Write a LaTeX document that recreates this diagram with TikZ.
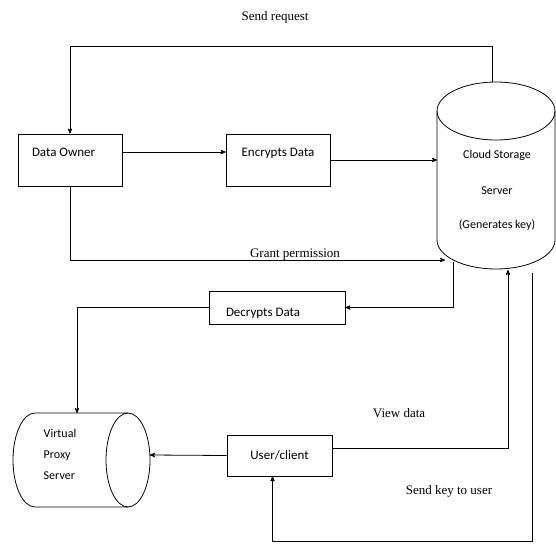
\documentclass[tikz,border=0pt]{standalone}
\usepackage{fontspec}
\setmainfont{Carlito}
\newfontfamily\labelserif{Liberation Serif}
\usetikzlibrary{arrows}

\begin{document}
\begin{tikzpicture}[>=stealth',x=1pt,y=-1pt,line width=0.8pt,
                    proc box/.style={rectangle,draw,inner sep=0pt,font=\fontsize{13}{15}\selectfont},
                    flow label/.style={font=\labelserif\fontsize{13}{15}\selectfont}]

  \useasboundingbox (0,0) rectangle (556,543);

  % boxes
  \node[proc box,text width=76pt,inner xsep=14pt,align=flush left,text height=22pt,text depth=30pt] (owner) at (70,160) {Data Owner};
  \node[proc box,minimum width=104pt,text height=22pt,text depth=30pt] (encrypt) at (278,160) {Encrypts Data};
  \node[proc box,text width=102pt,inner xsep=17pt,align=flush left,text height=25pt,text depth=8pt] (decrypt) at (277,307.5) {Decrypts Data};
  \node[proc box,minimum width=105pt,minimum height=41pt] (user) at (279.5,455.5) {User/client};

  % cloud storage cylinder
  \draw (437,111) -- (437,240) arc[start angle=180,end angle=360,x radius=59pt,y radius=29pt] -- (555,111);
  \draw (496,111) ellipse[x radius=59pt,y radius=29pt];
  \node[align=center,font=\fontsize{12}{14}\selectfont] (cloud) at (497,190)
       {Cloud Storage\\[22pt]Server\\[20pt](Generates key)};

  % virtual proxy cylinder
  \draw (128,413) -- (35,413) arc[start angle=90,end angle=270,x radius=22pt,y radius=47pt] -- (128,507);
  \draw (128,460) ellipse[x radius=22pt,y radius=47pt];
  \node[align=left,anchor=west,font=\fontsize{12}{21}\selectfont] (proxy) at (40,454) {Virtual\\Proxy\\Server};

  \coordinate (ctop) at (492,82);
  \coordinate (cin) at (437,160);
  \coordinate (gend) at (445,260);
  \coordinate (cout) at (453,262);
  \coordinate (vend) at (508,270);
  \coordinate (kstart) at (532,273);
  \coordinate (kfoot) at (532,541);
  \coordinate (ptop) at (77,413);
  \coordinate (pin) at (150,455);

  \draw[->] (ctop) -- ++(0,-36) -| (owner.north)
        node[flow label,pos=0.257,above=19pt] {Send request};
  \draw[->] ([yshift=8pt]owner.east) -- ([yshift=8pt]encrypt.west);
  \draw[->] (encrypt.east) -- (cin);
  \draw[->] (owner.south) |- (gend)
        node[flow label,pos=0.8,yshift=5pt] {Grant permission};
  \draw[->] (cout) |- (decrypt.east);
  \draw[->] (decrypt.west) -| (ptop);
  \draw[->] (user.west) -- (pin);
  \draw[->] ([yshift=7pt]user.east) -| (vend)
        node[flow label,pos=0.19,above=27pt] {View data};
  \draw[->] (kstart) -- (kfoot) -| ([xshift=-7pt]user.south)
        node[flow label,pos=0.16,above=40pt] {Send key to user};
\end{tikzpicture}
\end{document}
